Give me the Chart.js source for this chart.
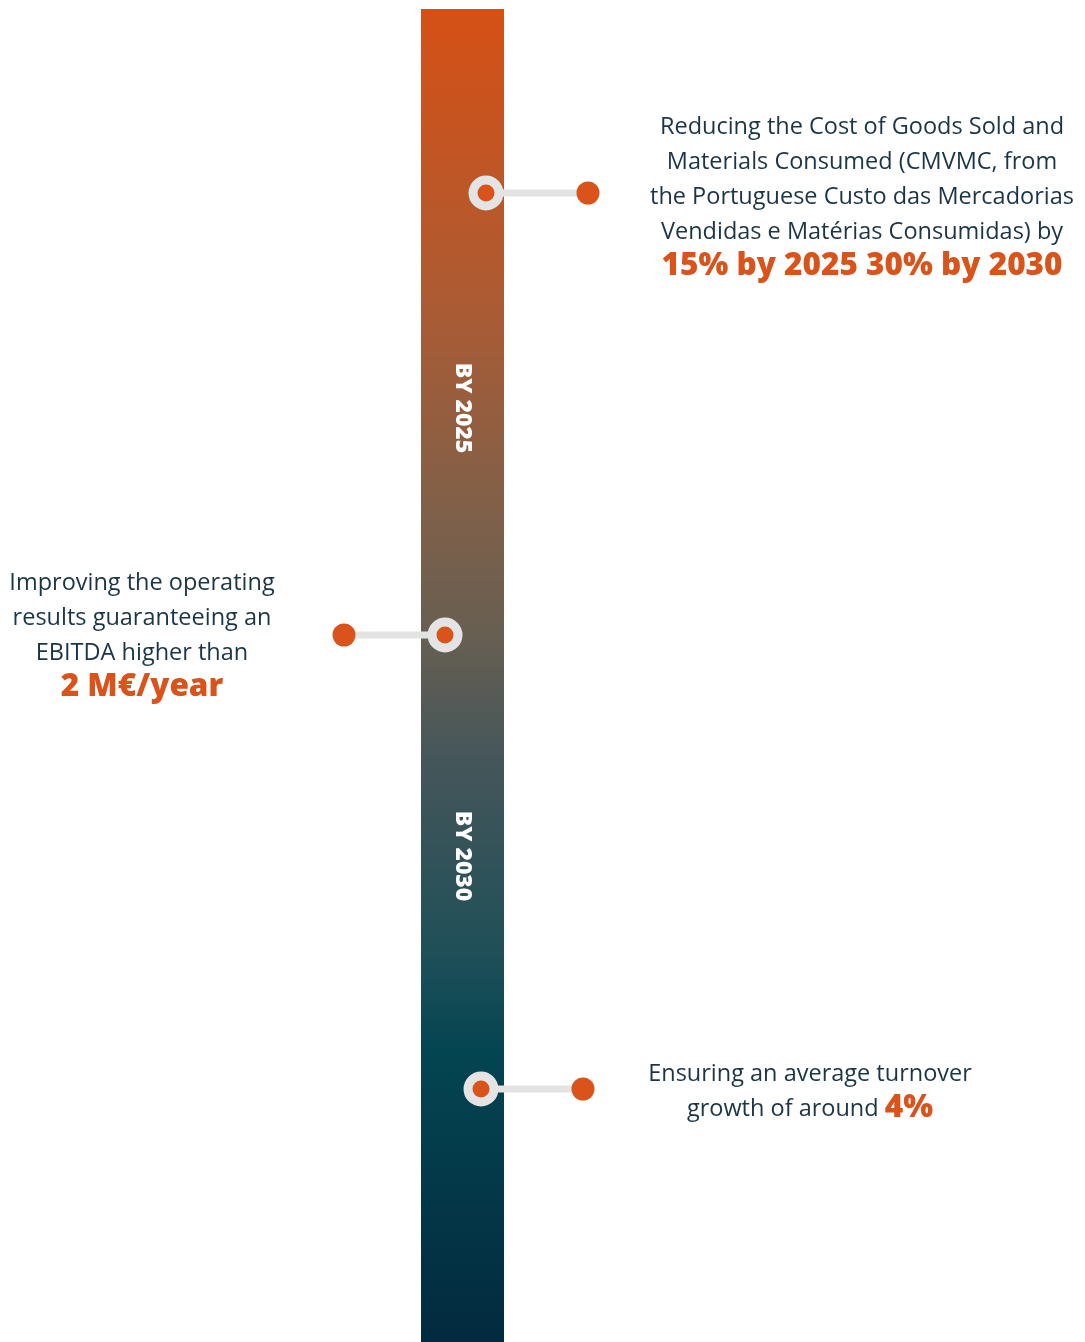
<!DOCTYPE html>
<html>
<head>
<meta charset="utf-8">
<script src="https://cdn.jsdelivr.net/npm/chart.js@4/dist/chart.umd.min.js"></script>
<style>
  html, body { margin: 0; padding: 0; background: #ffffff; }
  canvas { display: block; }
</style>
</head>
<body>
<canvas id="timeline" width="1085" height="1342"></canvas>
<script>
// timeline band (in chart units, same as page px)
const bandX = [421, 504];
const bandY = [9, 1342];
const bandStops = [0, 0.218, 0.368, 0.47, 0.563, 0.713, 0.78, 1];
const bandColors = ['#d55015', '#ad5b33', '#826048', '#675f52', '#45565a', '#1e4f58', '#044552', '#032a3f'];

// period labels on the band
const periodLabels = ['BY 2025', 'BY 2030'];
const periodY = [408, 856];

// milestones
const milestoneY = [193, 635, 1089];
const ringX = [486, 445, 481];
const dotX = [588, 344, 583];

// milestone texts
const textX = [862, 142, 810];
const textLines = [
    ['Reducing the Cost of Goods Sold and', 'Materials Consumed (CMVMC, from', 'the Portuguese Custo das Mercadorias', 'Vendidas e Matérias Consumidas) by'],
    ['Improving the operating', 'results guaranteeing an', 'EBITDA higher than'],
    ['Ensuring an average turnover']
];
const textTopY = [127.5, 583.5, 1074.5];
const highlightPrefix = ['', '', 'growth of around '];
const highlightText = ['15% by 2025 30% by 2030', '2 M€/year', '4%'];

const orange = '#d9531a';
const navy = '#1b3547';
const lineGap = 34.8;

const datasets = [];
milestoneY.forEach((y, i) => {
    datasets.push({
        type: 'line',
        data: [{ x: ringX[i], y: y }, { x: dotX[i], y: y }],
        borderColor: '#e3e3e3',
        borderWidth: 7,
        pointRadius: 0,
        order: 2
    });
});
datasets.push({
    type: 'scatter',
    data: milestoneY.map((y, i) => ({ x: ringX[i], y: y })),
    backgroundColor: orange,
    borderColor: '#e4e4e4',
    borderWidth: 9,
    pointRadius: 13,
    order: 0
});
datasets.push({
    type: 'scatter',
    data: milestoneY.map((y, i) => ({ x: dotX[i], y: y })),
    backgroundColor: orange,
    borderWidth: 0,
    pointRadius: 11.5,
    order: 0
});

const bandPlugin = {
    id: 'band',
    beforeDatasetsDraw(chart) {
        const ctx = chart.ctx;
        const xs = chart.scales.x, ys = chart.scales.y;
        const x0 = xs.getPixelForValue(bandX[0]), x1 = xs.getPixelForValue(bandX[1]);
        const y0 = ys.getPixelForValue(bandY[0]), y1 = ys.getPixelForValue(bandY[1]);
        const grad = ctx.createLinearGradient(0, y0, 0, y1);
        bandStops.forEach((s, i) => grad.addColorStop(s, bandColors[i]));
        ctx.save();
        ctx.fillStyle = grad;
        ctx.fillRect(x0, y0, x1 - x0, y1 - y0);

        ctx.fillStyle = '#ffffff';
        ctx.font = '800 23px "Open Sans"';
        ctx.textAlign = 'center';
        ctx.textBaseline = 'middle';
        periodLabels.forEach((label, i) => {
            ctx.save();
            ctx.translate((x0 + x1) / 2, ys.getPixelForValue(periodY[i]));
            ctx.rotate(Math.PI / 2);
            ctx.fillText(label, 0, 0);
            ctx.restore();
        });
        ctx.restore();
    },
    afterDatasetsDraw(chart) {
        const ctx = chart.ctx;
        const xs = chart.scales.x, ys = chart.scales.y;
        ctx.save();
        ctx.textBaseline = 'middle';
        const normalFont = '23.5px "Open Sans"';
        const boldFont = '800 31.5px "Open Sans"';
        textLines.forEach((lines, i) => {
            const cx = xs.getPixelForValue(textX[i]);
            let y = ys.getPixelForValue(textTopY[i]);
            ctx.font = normalFont;
            ctx.fillStyle = navy;
            ctx.textAlign = 'center';
            lines.forEach(line => {
                ctx.fillText(line, cx, y);
                y += lineGap;
            });
            // last line: optional normal prefix + bold orange highlight
            ctx.font = normalFont;
            const wPre = ctx.measureText(highlightPrefix[i]).width;
            ctx.font = boldFont;
            const wHi = ctx.measureText(highlightText[i]).width;
            let x = cx - (wPre + wHi) / 2;
            ctx.textAlign = 'left';
            if (highlightPrefix[i]) {
                ctx.font = normalFont;
                ctx.fillStyle = navy;
                ctx.fillText(highlightPrefix[i], x, y);
                x += wPre;
            }
            ctx.font = boldFont;
            ctx.fillStyle = orange;
            ctx.fillText(highlightText[i], x, y - 1);
        });
        ctx.restore();
    }
};

new Chart(document.getElementById('timeline'), {
    type: 'scatter',
    data: { datasets: datasets },
    options: {
        responsive: false,
        animation: false,
        layout: { padding: 0, autoPadding: false },
        plugins: { legend: { display: false }, tooltip: { enabled: false } },
        scales: {
            x: { type: 'linear', min: 0, max: 1085, display: false },
            y: { type: 'linear', min: 0, max: 1342, reverse: true, display: false }
        }
    },
    plugins: [bandPlugin]
});
</script>
</body>
</html>
